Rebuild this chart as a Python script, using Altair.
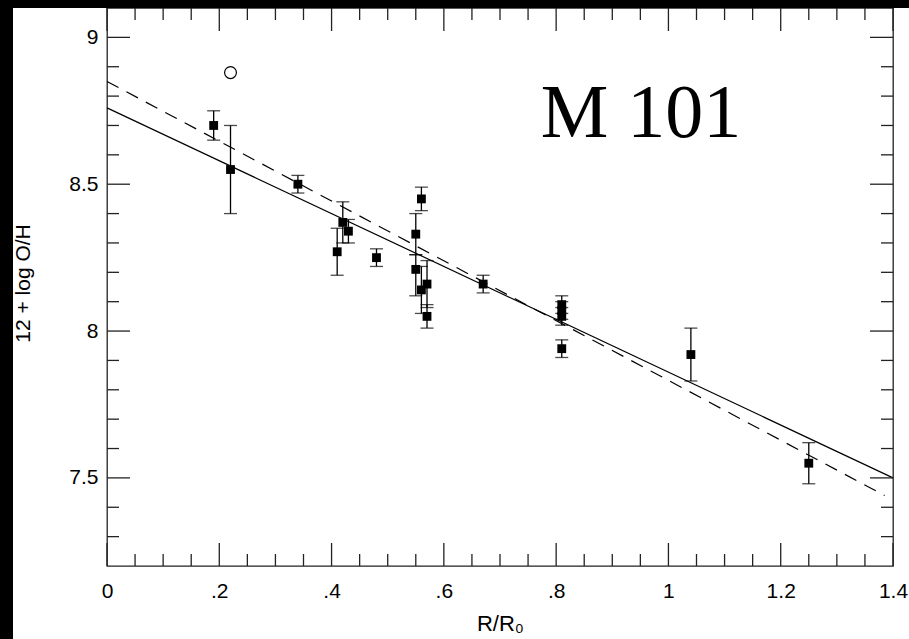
import altair as alt
import pandas as pd

# ---- data ----
r_vals = [0.19, 0.22, 0.34, 0.41, 0.42, 0.43, 0.48, 0.55, 0.55, 0.56, 0.56, 0.57, 0.57, 0.67, 0.81, 0.81, 0.81, 0.81, 1.04, 1.25]
oh_vals = [8.70, 8.55, 8.50, 8.27, 8.37, 8.34, 8.25, 8.33, 8.21, 8.45, 8.14, 8.16, 8.05, 8.16, 8.09, 8.07, 8.05, 7.94, 7.92, 7.55]
oh_lo = [8.65, 8.40, 8.47, 8.19, 8.30, 8.30, 8.22, 8.26, 8.12, 8.41, 8.06, 8.08, 8.01, 8.13, 8.06, 8.04, 8.02, 7.91, 7.83, 7.48]
oh_hi = [8.75, 8.70, 8.53, 8.35, 8.44, 8.38, 8.28, 8.40, 8.26, 8.49, 8.22, 8.24, 8.09, 8.19, 8.12, 8.10, 8.08, 7.97, 8.01, 7.62]

open_r = [0.22]
open_oh = [8.88]

solid_r = [0.0, 1.4]
solid_oh = [8.76, 7.50]
dashed_r = [0.0, 1.385]
dashed_oh = [8.85, 7.44]

x_major = [0.0, 0.2, 0.4, 0.6, 0.8, 1.0, 1.2, 1.4]
x_minor = [0.05, 0.1, 0.15, 0.25, 0.3, 0.35, 0.45, 0.5, 0.55, 0.65, 0.7, 0.75,
           0.85, 0.9, 0.95, 1.05, 1.1, 1.15, 1.25, 1.3, 1.35]
y_major = [7.5, 8.0, 8.5, 9.0]
y_minor = [7.3, 7.4, 7.6, 7.7, 7.8, 7.9, 8.1, 8.2, 8.3, 8.4, 8.6, 8.7, 8.8, 8.9]

label_text = ["M 101"]

W, H = 786, 558
XD = [0, 1.4]
YD = [7.2, 9.1]
FONT = "Liberation Sans"
INK = "#222222"

xs = alt.Scale(domain=XD, nice=False, zero=False)
ys = alt.Scale(domain=YD, nice=False, zero=False)

pts = pd.DataFrame({"r": r_vals, "oh": oh_vals, "lo": oh_lo, "hi": oh_hi})

xaxis = alt.Axis(values=x_major, ticks=False, domain=False, grid=False,
                 labelFont=FONT, labelFontSize=21, labelColor="black", labelPadding=14,
                 labelFlush=False, labelOverlap=False, labelBound=False,
                 labelExpr="datum.value > 0 && datum.value < 1 ? substring(format(datum.value, '.1f'), 1) : format(datum.value, '~g')",
                 title="R/R₀", titleFont=FONT, titleFontSize=22, titleFontWeight="normal",
                 titleColor="black", titlePadding=12)
yaxis = alt.Axis(values=y_major, ticks=False, domain=False, grid=False,
                 labelFont=FONT, labelFontSize=21, labelColor="black", labelPadding=9,
                 labelFlush=False, labelOverlap=False,
                 format="~g",
                 title="12 + log O/H", titleFont=FONT, titleFontSize=21, titleFontWeight="normal",
                 titleColor="black", titleX=-84, titleY=275, titleAngle=-90,
                 titleAlign="center", titleBaseline="middle")

base = alt.Chart(pts)

bars = base.mark_rule(color="black", strokeWidth=1.3).encode(
    x=alt.X("r:Q", scale=xs, axis=xaxis),
    y=alt.Y("lo:Q", scale=ys, axis=yaxis),
    y2="hi:Q",
)
cap_lo = base.mark_tick(orient="horizontal", size=13, thickness=1.3, color="black").encode(
    x=alt.X("r:Q", scale=xs), y=alt.Y("lo:Q", scale=ys))
cap_hi = base.mark_tick(orient="horizontal", size=13, thickness=1.3, color="black").encode(
    x=alt.X("r:Q", scale=xs), y=alt.Y("hi:Q", scale=ys))
squares = base.mark_square(size=78, color="black", opacity=1, filled=True).encode(
    x=alt.X("r:Q", scale=xs), y=alt.Y("oh:Q", scale=ys))

circle = alt.Chart(pd.DataFrame({"r": open_r, "oh": open_oh})).mark_point(
    shape="circle", size=140, filled=False, color="black", strokeWidth=1.2, opacity=1
).encode(x=alt.X("r:Q", scale=xs), y=alt.Y("oh:Q", scale=ys))

solid = alt.Chart(pd.DataFrame({"r": solid_r, "oh": solid_oh})).mark_line(
    color="black", strokeWidth=1.2
).encode(x=alt.X("r:Q", scale=xs), y=alt.Y("oh:Q", scale=ys))
dashed = alt.Chart(pd.DataFrame({"r": dashed_r, "oh": dashed_oh})).mark_line(
    color="black", strokeWidth=1.2, strokeDash=[13, 9]
).encode(x=alt.X("r:Q", scale=xs), y=alt.Y("oh:Q", scale=ys))

# inward ticks on all four sides
xmaj = alt.Chart(pd.DataFrame({"v": x_major}))
xmin = alt.Chart(pd.DataFrame({"v": x_minor}))
ymaj = alt.Chart(pd.DataFrame({"v": y_major}))
ymin = alt.Chart(pd.DataFrame({"v": y_minor}))
tk = dict(color=INK, strokeWidth=1.3)
ticks = [
    xmaj.mark_rule(**tk).encode(x=alt.X("v:Q", scale=xs), y=alt.value(H), y2=alt.value(H - 23)),
    xmin.mark_rule(**tk).encode(x=alt.X("v:Q", scale=xs), y=alt.value(H), y2=alt.value(H - 12)),
    xmaj.mark_rule(**tk).encode(x=alt.X("v:Q", scale=xs), y=alt.value(0), y2=alt.value(23)),
    xmin.mark_rule(**tk).encode(x=alt.X("v:Q", scale=xs), y=alt.value(0), y2=alt.value(12)),
    ymaj.mark_rule(**tk).encode(y=alt.Y("v:Q", scale=ys), x=alt.value(0), x2=alt.value(23)),
    ymin.mark_rule(**tk).encode(y=alt.Y("v:Q", scale=ys), x=alt.value(0), x2=alt.value(12)),
    ymaj.mark_rule(**tk).encode(y=alt.Y("v:Q", scale=ys), x=alt.value(W), x2=alt.value(W - 23)),
    ymin.mark_rule(**tk).encode(y=alt.Y("v:Q", scale=ys), x=alt.value(W), x2=alt.value(W - 12)),
]

title_txt = alt.Chart(pd.DataFrame({"t": label_text})).mark_text(
    font="Liberation Serif", fontSize=76, align="center", baseline="alphabetic", color="black"
).encode(text="t:N", x=alt.value(534), y=alt.value(129))

one = pd.DataFrame({"a": [0]})
band_left = alt.Chart(one).mark_rect(color="black").encode(
    x=alt.value(-107), x2=alt.value(-94), y=alt.value(-8), y2=alt.value(H + 73))
band_top = alt.Chart(one).mark_rect(color="black").encode(
    x=alt.value(-107), x2=alt.value(W + 16), y=alt.value(-8), y2=alt.value(0))

chart = alt.layer(
    solid, dashed, bars, cap_lo, cap_hi, squares, circle, *ticks, title_txt, band_left, band_top
).properties(
    width=W, height=H,
    padding={"left": 107, "top": 8, "right": 16, "bottom": 73},
    autosize=alt.AutoSizeParams(type="none"),
    background="white",
).configure_view(stroke=INK, strokeWidth=1.3)

chart.save("out.html", embed_options={"renderer": "svg", "actions": False})
